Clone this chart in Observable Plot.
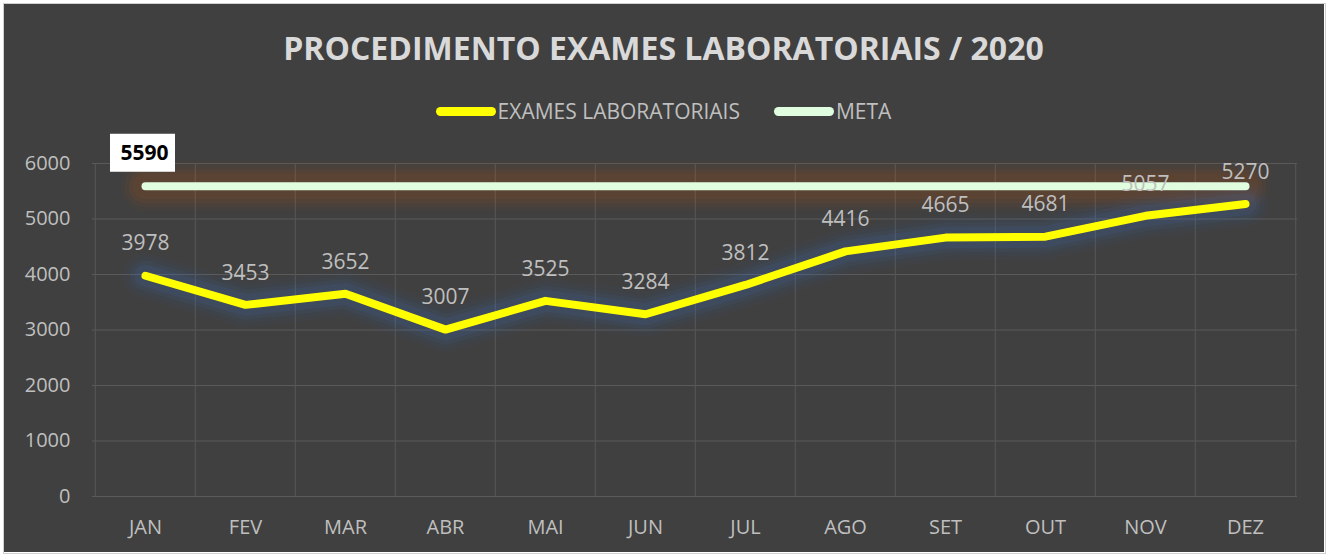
<!DOCTYPE html>
<html>
<head>
<meta charset="utf-8">
<script src="https://cdn.jsdelivr.net/npm/d3@7"></script>
<script src="https://cdn.jsdelivr.net/npm/@observablehq/plot@0.6"></script>
<style>
  html, body { margin: 0; padding: 0; background: #ffffff; }
  #wrap { position: relative; width: 1327px; height: 556px; overflow: hidden; font-family: "Open Sans", sans-serif; }
  #bg { position: absolute; left: 3px; top: 3px; width: 1321px; height: 549px; background: #404040; }
  #border { position: absolute; left: 3px; top: 3px; width: 1321px; height: 549px; border: 1px solid #d0d0d0; pointer-events: none; }
  #title { position: absolute; left: 0; width: 1327px; top: 26px; text-align: center; color: #d9d9d9; font-weight: 700; font-size: 32px; line-height: 44px; white-space: nowrap; }
  #legend { position: absolute; left: 0; width: 1327px; top: 97px; display: flex; justify-content: center; align-items: center; color: #bfbfbf; font-size: 21px; line-height: 28px; }
  .item { display: flex; align-items: center; margin: 0 17px; }
  .sw { width: 60px; height: 9px; border-radius: 5px; margin-right: 2px; }
  #plot { position: absolute; left: 0; top: 130px; }
</style>
</head>
<body>
<div id="wrap">
  <div id="bg"></div>
  <div id="title"></div>
  <div id="legend"></div>
  <div id="plot"></div>
  <div id="border"></div>
</div>
<script>
const titleText = "PROCEDIMENTO EXAMES LABORATORIAIS / 2020";
const months = ["JAN", "FEV", "MAR", "ABR", "MAI", "JUN", "JUL", "AGO", "SET", "OUT", "NOV", "DEZ"];
const exames = [3978, 3453, 3652, 3007, 3525, 3284, 3812, 4416, 4665, 4681, 5057, 5270];
const meta = 5590;
const yTicks = [0, 1000, 2000, 3000, 4000, 5000, 6000];
const seriesNames = ["EXAMES LABORATORIAIS", "META"];
const seriesColors = ["#ffff00", "#e0fde0"];

document.getElementById("title").textContent = titleText;
const legend = document.getElementById("legend");
seriesNames.forEach((n, i) => {
  const it = document.createElement("div");
  it.className = "item";
  const sw = document.createElement("div");
  sw.className = "sw";
  sw.style.background = seriesColors[i];
  const tx = document.createElement("span");
  tx.textContent = n;
  it.appendChild(sw); it.appendChild(tx);
  legend.appendChild(it);
});

const data = months.map((m, i) => ({month: m, value: exames[i], meta}));

const W = 1327, H = 426;
const mL = 92, mR = 30, mT = 33, mB = 60;
const bw = (W - mL - mR) / months.length;
const unitsPerPx = 6000 / (H - mT - mB);

// soft glow layers (width, opacity)
const metaGlow = [[50, 0.035], [42, 0.05], [34, 0.07], [26, 0.08]];
const examGlow = [[46, 0.035], [38, 0.05], [30, 0.07], [22, 0.1]];

const chart = Plot.plot({
  width: W,
  height: H,
  marginLeft: mL,
  marginRight: mR,
  marginTop: mT,
  marginBottom: mB,
  style: {background: "transparent", color: "#bfbfbf", fontSize: "20px", fontFamily: "'Open Sans', sans-serif", overflow: "visible"},
  x: {domain: months, padding: 0, tickSize: 0, tickPadding: 23, label: null},
  y: {domain: [0, 6000], ticks: yTicks, tickSize: 0, tickPadding: 22, tickFormat: d => String(d), label: null},
  marks: [
    Plot.ruleY(yTicks, {stroke: "#5a5a5a", strokeWidth: 1}),
    Plot.ruleX(months, {x: d => d, dx: -bw / 2, stroke: "#575757", strokeWidth: 1}),
    Plot.ruleX([months[months.length - 1]], {x: d => d, dx: bw / 2, stroke: "#575757", strokeWidth: 1}),
    ...metaGlow.map(([w, o]) => Plot.line(data, {x: "month", y: "meta", stroke: "#c55a11", strokeOpacity: o, strokeWidth: w, strokeLinecap: "round"})),
    ...examGlow.map(([w, o]) => Plot.line(data, {x: "month", y: "value", stroke: "#4472c4", strokeOpacity: o, strokeWidth: w, strokeLinecap: "round", strokeLinejoin: "round"})),
    Plot.line(data, {x: "month", y: "meta", stroke: seriesColors[1], strokeWidth: 8, strokeLinecap: "round"}),
    Plot.line(data, {x: "month", y: "value", stroke: seriesColors[0], strokeWidth: 8, strokeLinecap: "round", strokeLinejoin: "round"}),
    Plot.text(data, {x: "month", y: "value", text: d => String(d.value), dy: -32, fill: "#bfbfbf", fontSize: 21}),
    Plot.barY([meta], {x: () => months[0], y1: d => d + 14 * unitsPerPx, y2: d => d + 52 * unitsPerPx, fill: "#ffffff", insetLeft: 17, insetRight: 18, dx: -2}),
    Plot.text([meta], {x: () => months[0], y: d => d, dy: -33, dx: -1, text: d => String(d), fill: "#000000", fontWeight: "bold", fontSize: 21})
  ]
});

document.getElementById("plot").appendChild(chart);
</script>
</body>
</html>
